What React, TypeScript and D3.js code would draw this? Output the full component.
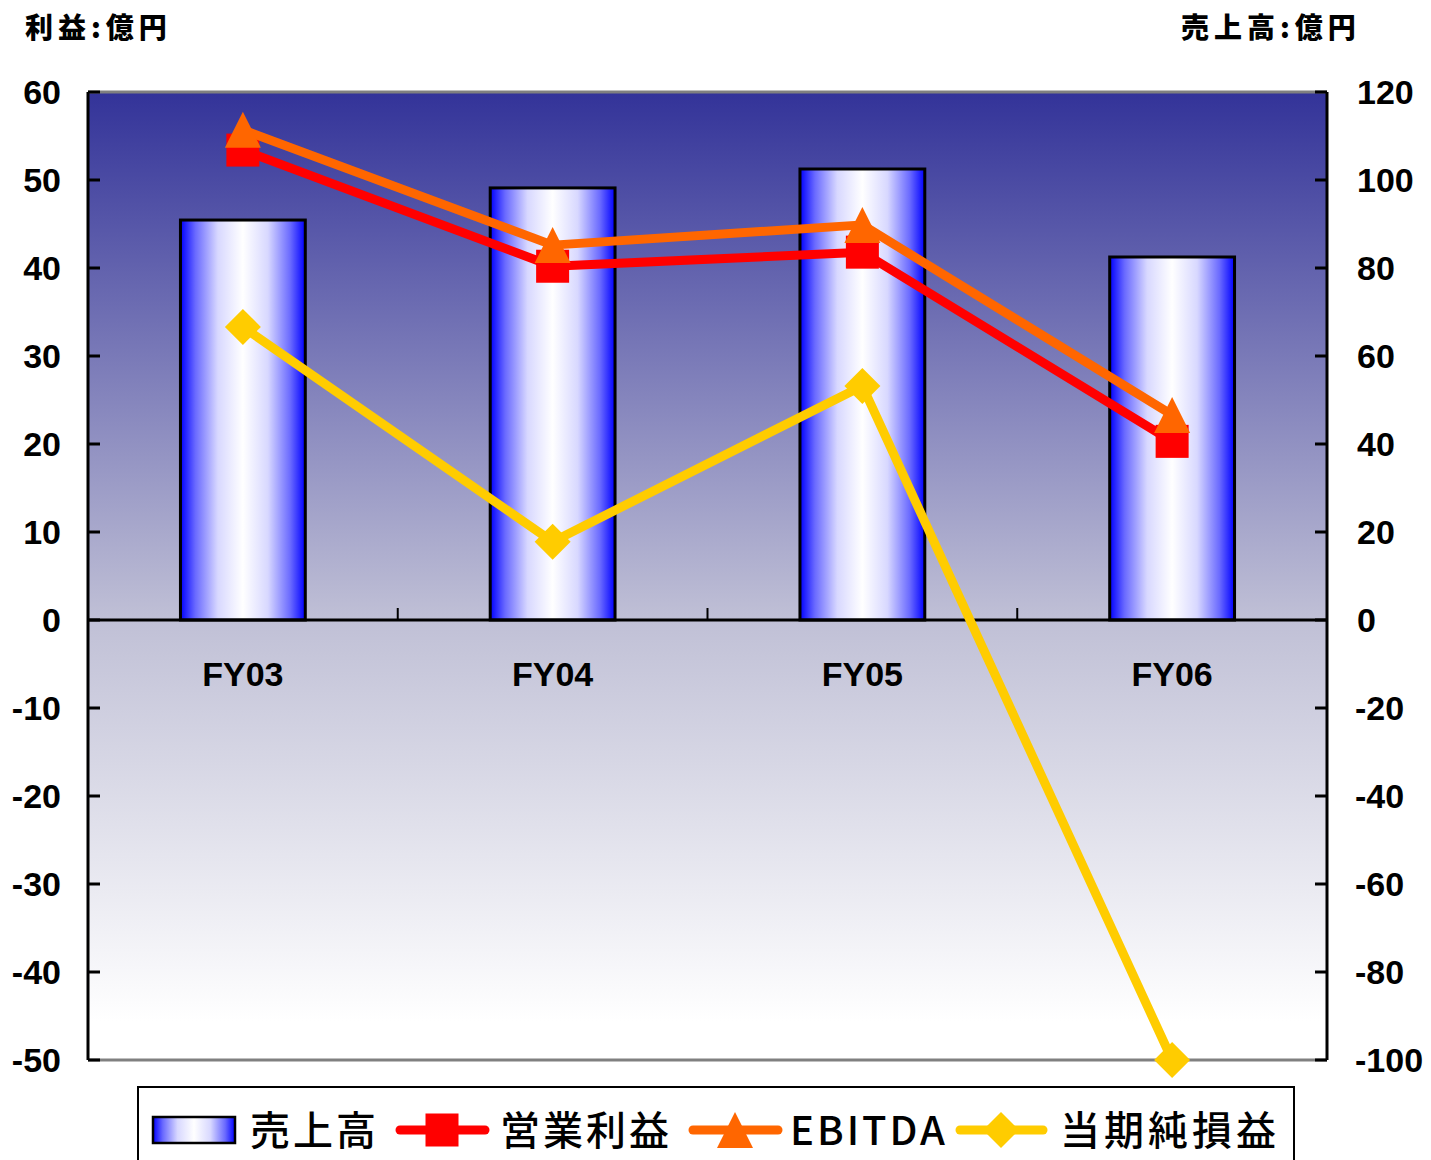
import React from 'react';
import * as d3 from 'd3';

const categories = ['FY03', 'FY04', 'FY05', 'FY06'];
const sales = [90.9, 98.2, 102.5, 82.5];
const operatingProfit = [53.4, 40.2, 41.8, 20.3];
const ebitda = [55.7, 42.6, 44.9, 23.3];
const netIncome = [33.3, 8.9, 26.6, -50.0];
const leftTicks = [60, 50, 40, 30, 20, 10, 0, -10, -20, -30, -40, -50];
const rightTicks = [120, 100, 80, 60, 40, 20, 0, -20, -40, -60, -80, -100];

const W = 1431;
const H = 1160;
const L = 88, R = 1327, T = 92, B = 1060;

const FONT = '"Liberation Sans", Arial, sans-serif';
const JP = '"Noto Sans CJK JP", sans-serif';

const RED = '#ff0000';
const ORANGE = '#ff6600';
const YELLOW = '#ffcc00';

function Marker({ type, x, y, color }: { type: string; x: number; y: number; color: string }) {
  if (type === 'square') {
    return <rect x={x - 16.5} y={y - 16.5} width={33} height={33} fill={color} />;
  }
  if (type === 'triangle') {
    return <path d={`M${x},${y - 18} L${x + 18},${y + 18} L${x - 18},${y + 18} Z`} fill={color} />;
  }
  return <path d={`M${x},${y - 18} L${x + 18},${y} L${x},${y + 18} L${x - 18},${y} Z`} fill={color} />;
}

export default function App() {
  const x = d3.scaleBand<string>().domain(categories).range([L, R]).paddingInner(0).paddingOuter(0);
  const yL = d3.scaleLinear().domain([-50, 60]).range([B, T]);
  const yR = d3.scaleLinear().domain([-100, 120]).range([B, T]);
  const cx = (c: string) => (x(c) as number) + x.bandwidth() / 2;
  const barW = x.bandwidth() * 0.403;

  const line = d3
    .line<number>()
    .x((_, i) => cx(categories[i]))
    .y((d) => yL(d));

  const series = [
    { name: '営業利益', data: operatingProfit, color: RED, marker: 'square' },
    { name: 'EBITDA', data: ebitda, color: ORANGE, marker: 'triangle' },
    { name: '当期純損益', data: netIncome, color: YELLOW, marker: 'diamond' },
  ];

  const boundaries = d3.range(categories.length + 1).map((i) => L + i * x.bandwidth());

  return (
    <svg width={W} height={H} style={{ position: 'absolute', left: 0, top: 0, background: '#fff' }}>
      <defs>
        <linearGradient id="bg" x1="0" y1="0" x2="0" y2="1">
          <stop offset="0" stopColor="#333399" />
          <stop offset="0.545" stopColor="#c0c0d6" />
          <stop offset="0.96" stopColor="#ffffff" />
          <stop offset="1" stopColor="#ffffff" />
        </linearGradient>
        <linearGradient id="bar" x1="0" y1="0" x2="1" y2="0">
          <stop offset="0" stopColor="#0000ff" />
          <stop offset="0.12" stopColor="#6a6aff" />
          <stop offset="0.3" stopColor="#d8d8ff" />
          <stop offset="0.5" stopColor="#ffffff" />
          <stop offset="0.7" stopColor="#d8d8ff" />
          <stop offset="0.88" stopColor="#6a6aff" />
          <stop offset="1" stopColor="#0000ff" />
        </linearGradient>
      </defs>

      {/* plot background */}
      <rect x={L} y={T} width={R - L} height={B - T} fill="url(#bg)" />
      <line x1={L} x2={R} y1={T} y2={T} stroke="#808080" strokeWidth={3} />
      <line x1={L} x2={R} y1={B} y2={B} stroke="#808080" strokeWidth={3} />

      {/* bars */}
      {categories.map((c, i) => (
        <rect
          key={c}
          x={cx(c) - barW / 2}
          y={yR(sales[i])}
          width={barW}
          height={yR(0) - yR(sales[i])}
          fill="url(#bar)"
          stroke="#000"
          strokeWidth={3}
        />
      ))}

      {/* zero line and category ticks */}
      <line x1={L} x2={R} y1={yL(0)} y2={yL(0)} stroke="#000" strokeWidth={3} />
      {boundaries.map((bx, i) => (
        <line key={i} x1={bx} x2={bx} y1={yL(0)} y2={yL(0) - 12} stroke="#000" strokeWidth={2} />
      ))}

      {/* axes */}
      <line x1={L} x2={L} y1={T} y2={B} stroke="#000" strokeWidth={3} />
      <line x1={R} x2={R} y1={T} y2={B} stroke="#000" strokeWidth={3} />
      {leftTicks.map((t) => (
        <g key={'l' + t}>
          <line x1={L} x2={L + 12} y1={yL(t)} y2={yL(t)} stroke="#000" strokeWidth={3} />
          <text
            x={61}
            y={yL(t)}
            dy="0.36em"
            textAnchor="end"
            fontFamily={FONT}
            fontWeight="bold"
            fontSize={34}
            fill="#000"
          >
            {t}
          </text>
        </g>
      ))}
      {rightTicks.map((t) => (
        <g key={'r' + t}>
          <line x1={R - 12} x2={R} y1={yR(t)} y2={yR(t)} stroke="#000" strokeWidth={3} />
          <text
            x={t < 0 ? 1355 : 1357}
            y={yR(t)}
            dy="0.36em"
            textAnchor="start"
            fontFamily={FONT}
            fontWeight="bold"
            fontSize={34}
            fill="#000"
          >
            {t}
          </text>
        </g>
      ))}

      {/* category labels */}
      {categories.map((c) => (
        <text
          key={'c' + c}
          x={cx(c)}
          y={674}
          dy="0.36em"
          textAnchor="middle"
          fontFamily={FONT}
          fontWeight="bold"
          fontSize={34}
          fill="#000"
        >
          {c}
        </text>
      ))}

      {/* lines */}
      {series.map((s) => (
        <g key={s.name}>
          <path d={line(s.data) || ''} fill="none" stroke={s.color} strokeWidth={9} strokeLinejoin="round" />
          {s.data.map((v, i) => (
            <Marker key={i} type={s.marker} x={cx(categories[i])} y={yL(v)} color={s.color} />
          ))}
        </g>
      ))}

      {/* axis titles */}
      <text x={25} y={28} dy="0.36em" fontFamily={JP} fontWeight={900} fontSize={28} letterSpacing={5} fill="#000">
        利益:億円
      </text>
      <text x={1181} y={28} dy="0.36em" fontFamily={JP} fontWeight={900} fontSize={28} letterSpacing={5} fill="#000">
        売上高:億円
      </text>

      {/* legend */}
      <rect x={138} y={1087} width={1156} height={100} fill="#fff" stroke="#000" strokeWidth={2} />
      <rect x={153} y={1117} width={82} height={26} fill="url(#bar)" stroke="#000" strokeWidth={2.5} />
      <text x={250} y={1131} dy="0.36em" fontFamily={JP} fontWeight={500} fontSize={40} letterSpacing={3} fill="#000">
        売上高
      </text>
      <line x1={400} x2={485} y1={1130} y2={1130} stroke={RED} strokeWidth={9} strokeLinecap="round" />
      <Marker type="square" x={442} y={1130} color={RED} />
      <text x={500} y={1131} dy="0.36em" fontFamily={JP} fontWeight={500} fontSize={40} letterSpacing={3} fill="#000">
        営業利益
      </text>
      <line x1={693} x2={778} y1={1130} y2={1130} stroke={ORANGE} strokeWidth={9} strokeLinecap="round" />
      <Marker type="triangle" x={735} y={1130} color={ORANGE} />
      <text x={790} y={1131} dy="0.36em" fontFamily={JP} fontWeight={500} fontSize={40} letterSpacing={3} fill="#000">
        EBITDA
      </text>
      <line x1={960} x2={1043} y1={1130} y2={1130} stroke={YELLOW} strokeWidth={9} strokeLinecap="round" />
      <Marker type="diamond" x={1001} y={1130} color={YELLOW} />
      <text x={1060} y={1131} dy="0.36em" fontFamily={JP} fontWeight={500} fontSize={40} letterSpacing={4} fill="#000">
        当期純損益
      </text>
    </svg>
  );
}
